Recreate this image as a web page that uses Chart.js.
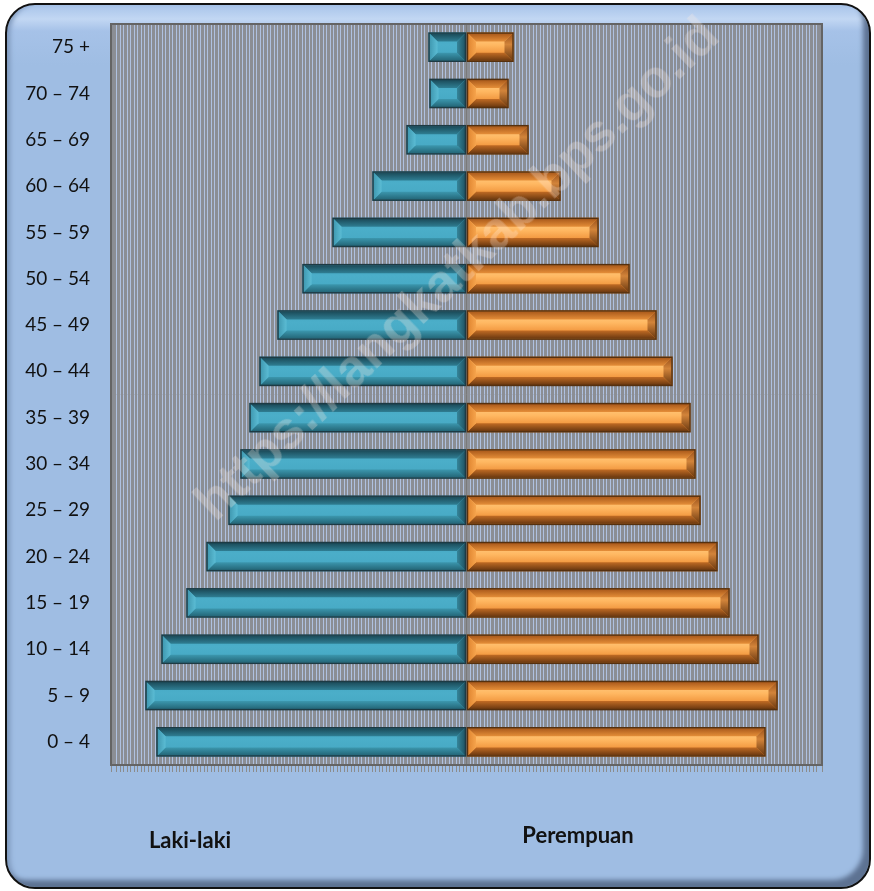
<!DOCTYPE html>
<html>
<head>
<meta charset="utf-8">
<script src="https://cdn.jsdelivr.net/npm/chart.js@4.4.1/dist/chart.umd.min.js"></script>
<style>
  html, body { margin: 0; padding: 0; background: #ffffff; }
  #wrap { position: relative; width: 874px; height: 891px; overflow: hidden; }
  #frame {
    position: absolute; left: 5px; top: 3px; width: 866px; height: 886px;
    box-sizing: border-box; border: 2px solid #111; border-radius: 30px;
    background: linear-gradient(to bottom, #a8c4ea 0px, #c2d7f3 14px, #a6c2e8 26px, #9fbde3 60px, #9fbde3 100%);
    box-shadow: inset -9px -10px 5px -3px #5d7292, inset 6px 0 5px -3px #7d97bb;
  }
  #chartBox { position: absolute; left: 0; top: 0; width: 874px; height: 891px; }
  .lbl { position: absolute; font-family: Lato, "Open Sans", sans-serif; font-weight: bold; font-size: 22px; line-height: 1; color: #111; white-space: nowrap; transform: translateX(-50%); }
  #wm {
    position: absolute; left: 456px; top: 268px; white-space: nowrap;
    font-family: "Liberation Sans", Arial, sans-serif; font-weight: bold; font-size: 44px;
    color: rgba(255, 238, 225, 0.28); pointer-events: none;
    transform-origin: 0 0;
  }
</style>
</head>
<body>
<div id="wrap">
  <div id="frame"></div>
  <div id="chartBox"><canvas id="c" width="874" height="891"></canvas></div>
  <div class="lbl" style="left:190px; top:829px;">Laki-laki</div>
  <div class="lbl" style="left:578px; top:824px;">Perempuan</div>
  <div id="wm">https://langkatkab.bps.go.id</div>
</div>
<script>
// ---- data (relative units) ----
const ageGroups = ["75 +", "70 – 74", "65 – 69", "60 – 64", "55 – 59", "50 – 54", "45 – 49", "40 – 44",
                   "35 – 39", "30 – 34", "25 – 29", "20 – 24", "15 – 19", "10 – 14", "5 – 9", "0 – 4"];
const maleValues   = [38, 37, 60, 94, 134, 164, 189, 207, 217, 226, 238, 260, 280, 305, 321, 310];
const femaleValues = [47, 42, 62, 94, 132, 163, 190, 206, 224, 229, 234, 251, 263, 292, 311, 299];
const seriesNames  = ["Laki-laki", "Perempuan"];
const axisLimit = 355.5;

// ---- plot-area background and frame ----
const plotBg = {
  id: 'plotBg',
  beforeDraw(chart) {
    const {ctx, chartArea: a} = chart;
    ctx.save();
    ctx.fillStyle = '#8b8e94';
    ctx.fillRect(a.left, a.top, a.right - a.left, a.bottom - a.top);
    ctx.restore();
  },
  afterDraw(chart) {
    const {ctx, chartArea: a} = chart;
    ctx.save();
    ctx.strokeStyle = '#646464';
    ctx.lineWidth = 2;
    ctx.strokeRect(a.left, a.top, a.right - a.left, a.bottom - a.top);
    ctx.restore();
  }
};

// ---- bevel shading on each bar element ----
function poly(ctx, pts, fill) {
  ctx.beginPath();
  ctx.moveTo(pts[0][0], pts[0][1]);
  for (let i = 1; i < pts.length; i++) ctx.lineTo(pts[i][0], pts[i][1]);
  ctx.closePath();
  ctx.fillStyle = fill;
  ctx.fill();
}
function vgrad(ctx, y0, y1, stops) {
  const g = ctx.createLinearGradient(0, y0, 0, y1);
  stops.forEach(s => g.addColorStop(s[0], s[1]));
  return g;
}
function hgrad(ctx, x0, x1, stops) {
  const g = ctx.createLinearGradient(x0, 0, x1, 0);
  stops.forEach(s => g.addColorStop(s[0], s[1]));
  return g;
}
const bevel = {
  id: 'bevel',
  afterDatasetsDraw(chart) {
    const ctx = chart.ctx;
    chart.data.datasets.forEach((ds, di) => {
      const meta = chart.getDatasetMeta(di);
      meta.data.forEach(el => {
        const p = el.getProps(['x', 'y', 'base', 'height'], true);
        const l = Math.min(p.x, p.base) + 1, r = Math.max(p.x, p.base) - 1;
        const t = p.y - p.height / 2 + 1, b = p.y + p.height / 2 - 1;
        const h = b - t;
        const bv = Math.min(8, (r - l) / 2, h / 2);
        ctx.save();
        if (di === 0) {
          ctx.fillStyle = vgrad(ctx, t, b, [[0, '#44a6c1'], [0.4, '#4baec9'], [1, '#45a7c2']]);
          ctx.fillRect(l, t, r - l, h);
          poly(ctx, [[l, t], [r, t], [r - bv, t + bv], [l + bv, t + bv]], vgrad(ctx, t, t + bv, [[0, '#1b4a58'], [1, '#2f7e93']]));
          poly(ctx, [[l, b], [r, b], [r - bv, b - bv], [l + bv, b - bv]], vgrad(ctx, b - bv, b, [[0, '#3c97ae'], [1, '#236576']]));
          poly(ctx, [[l, t], [l + bv, t + bv], [l + bv, b - bv], [l, b]], hgrad(ctx, l, l + bv, [[0, '#3f98b0'], [1, '#5bbcd4']]));
          poly(ctx, [[r, t], [r - bv, t + bv], [r - bv, b - bv], [r, b]], hgrad(ctx, r - bv, r, [[0, '#35859a'], [1, '#1f5565']]));
        } else {
          ctx.fillStyle = vgrad(ctx, t, b, [[0, '#ec8f35'], [0.25, '#ffc171'], [0.42, '#ffb862'], [0.7, '#f39b43'], [1, '#e0852e']]);
          ctx.fillRect(l, t, r - l, h);
          poly(ctx, [[l, t], [r, t], [r - bv, t + bv], [l + bv, t + bv]], vgrad(ctx, t, t + bv, [[0, '#a9591b'], [1, '#e58e38']]));
          poly(ctx, [[l, b], [r, b], [r - bv, b - bv], [l + bv, b - bv]], vgrad(ctx, b - bv, b, [[0, '#c06b24'], [1, '#6a3810']]));
          poly(ctx, [[l, t], [l + bv, t + bv], [l + bv, b - bv], [l, b]], hgrad(ctx, l, l + bv, [[0, '#e08530'], [1, '#f6a44c']]));
          poly(ctx, [[r, t], [r - bv, t + bv], [r - bv, b - bv], [r, b]],
               vgrad(ctx, t, b, [[0, '#9a5019'], [0.4, '#d2843a'], [1, '#6a3810']]));
        }
        ctx.strokeStyle = di === 0 ? '#1d3a44' : '#55300f';
        ctx.lineWidth = 1.5;
        ctx.strokeRect(l - 0.5, t - 0.5, r - l + 1, h + 1);
        ctx.restore();
      });
    });
  }
};

new Chart(document.getElementById('c'), {
  type: 'bar',
  data: {
    labels: ageGroups,
    datasets: [
      { label: seriesNames[0], data: maleValues.map(v => -v), backgroundColor: '#47a9c5', borderWidth: 0 },
      { label: seriesNames[1], data: femaleValues, backgroundColor: '#f0953a', borderWidth: 0 }
    ]
  },
  options: {
    indexAxis: 'y',
    responsive: false,
    animation: false,
    devicePixelRatio: 1,
    layout: { padding: { left: 0, top: 24, right: 52, bottom: 119 } },
    datasets: { bar: { categoryPercentage: 1, barPercentage: 0.63 } },
    plugins: { legend: { display: false }, tooltip: { enabled: false } },
    scales: {
      x: {
        stacked: true,
        min: -axisLimit, max: axisLimit,
        ticks: { display: false, stepSize: 3.5 },
        border: { display: false },
        grid: {
          drawTicks: true, tickLength: 7,
          color: ctx => (ctx.tick && ctx.tick.value === 0) ? '#7a7a7a' : 'rgba(178,198,232,0.9)',
          tickColor: '#8c8c8c',
          lineWidth: 1
        }
      },
      y: {
        stacked: true,
        afterFit: s => { s.width = 111; s.paddingTop = 0; s.paddingBottom = 0; },
        grid: { display: false },
        border: { display: false },
        ticks: { padding: 13, color: '#111', font: { family: 'Lato, "Open Sans", sans-serif', size: 19 } }
      }
    }
  },
  plugins: [plotBg, bevel]
});

// watermark sizing / rotation
(function () {
  const wm = document.getElementById('wm');
  const w = wm.offsetWidth, h = wm.offsetHeight;
  const target = 700, ang = -43.7;
  const s = target / w;
  wm.style.transform = 'rotate(' + ang + 'deg) scale(' + s + ') translate(' + (-w / 2) + 'px,' + (-h / 2) + 'px)';
})();
</script>
</body>
</html>
